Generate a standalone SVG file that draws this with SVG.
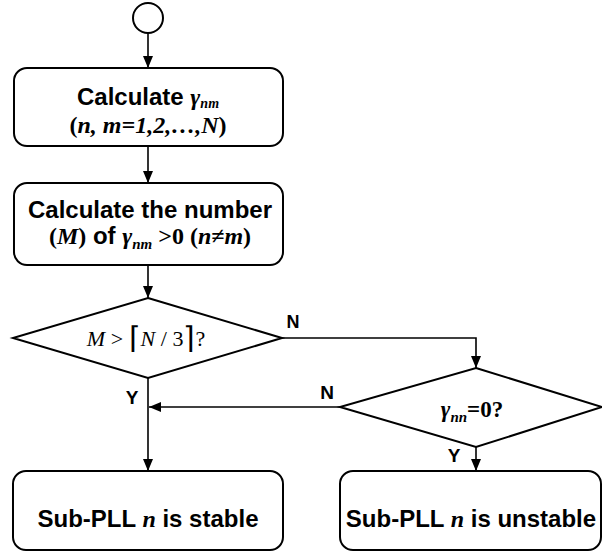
<svg xmlns="http://www.w3.org/2000/svg" width="602" height="554" viewBox="0 0 602 554">
<defs>
<style>
.s{fill:#fff;stroke:#000;stroke-width:2}
.c{fill:none;stroke:#000;stroke-width:1.6}
.a{font-family:"Liberation Sans",Arial,sans-serif;font-weight:bold;fill:#000}
.t{font-family:"Liberation Serif","Times New Roman",serif;fill:#000}
.b{font-weight:bold}
.i{font-style:italic}
</style>
<marker id="ah" viewBox="0 0 12 10" refX="12" refY="5" markerWidth="12" markerHeight="10" markerUnits="userSpaceOnUse" orient="auto">
<path d="M0,0 L12,5 L0,10 Z" fill="#000"/>
</marker>
</defs>
<g id="connectors">
<line class="c" x1="148" y1="33" x2="148" y2="68" marker-end="url(#ah)"/>
<line class="c" x1="148" y1="146" x2="148" y2="183" marker-end="url(#ah)"/>
<line class="c" x1="148" y1="265" x2="148" y2="298" marker-end="url(#ah)"/>
<polyline class="c" points="282,338 476,338 476,368" marker-end="url(#ah)"/>
<line class="c" x1="340" y1="407" x2="149" y2="407" marker-end="url(#ah)"/>
<line class="c" x1="148" y1="378" x2="148" y2="471" marker-end="url(#ah)"/>
<line class="c" x1="476" y1="447" x2="476" y2="471" marker-end="url(#ah)"/>
<text class="a" x="293" y="328" font-size="18" text-anchor="middle">N</text>
<text class="a" x="327" y="399" font-size="19" text-anchor="middle">N</text>
<text class="a" x="132" y="404" font-size="19" text-anchor="middle">Y</text>
<text class="a" x="454" y="462" font-size="19" text-anchor="middle">Y</text>
</g>
<g id="start">
<circle class="s" cx="148" cy="18" r="15"/>
</g>
<g id="calc1">
<rect class="s" x="14" y="68" width="269" height="78" rx="13"/>
<text class="a" x="148" y="105" font-size="24" text-anchor="middle">Calculate <tspan class="t b i">γ</tspan><tspan class="t b i" font-size="14" dy="3">nm</tspan></text>
<text class="t b" x="148" y="133" font-size="24" text-anchor="middle">(<tspan class="i">n, m=1,2,…,N</tspan>)</text>
</g>
<g id="calc2">
<rect class="s" x="14" y="183" width="269" height="82" rx="13"/>
<text class="a" x="150" y="218" font-size="24" text-anchor="middle">Calculate the number</text>
<text class="a" x="150" y="244" font-size="24" text-anchor="middle"><tspan class="t">(</tspan><tspan class="t i">M</tspan><tspan class="t">)</tspan> of <tspan class="t i">γ</tspan><tspan class="t i" font-size="15" dy="5">nm</tspan><tspan class="t" dy="-5"> &gt;0 (</tspan><tspan class="t i">n≠m</tspan><tspan class="t">)</tspan></text>
</g>
<g id="decision1">
<polygon class="s" points="148,298 282,338 148,378 13,338"/>
<text class="t" x="146" y="346" font-size="22" text-anchor="middle"><tspan class="i">M</tspan> &gt; <tspan font-size="30" dy="2">⌈</tspan><tspan class="i" dy="-2">N</tspan> / 3<tspan font-size="30" dy="2">⌉</tspan><tspan dy="-2">?</tspan></text>
</g>
<g id="decision2">
<polygon class="s" points="476,368 602,407 476,447 340,407"/>
<text class="t b" x="472" y="417" font-size="23" text-anchor="middle"><tspan class="i">γ</tspan><tspan class="i" font-size="15" dy="5">nn</tspan><tspan dy="-5">=0?</tspan></text>
</g>
<g id="stable">
<rect class="s" x="13" y="471" width="270" height="79" rx="13"/>
<text class="a" x="148" y="527" font-size="24" text-anchor="middle">Sub-PLL <tspan class="t i">n</tspan> is stable</text>
</g>
<g id="unstable">
<rect class="s" x="340" y="471" width="261" height="79" rx="13"/>
<text class="a" x="471" y="527" font-size="24" text-anchor="middle">Sub-PLL <tspan class="t i">n</tspan> is unstable</text>
</g>
</svg>
